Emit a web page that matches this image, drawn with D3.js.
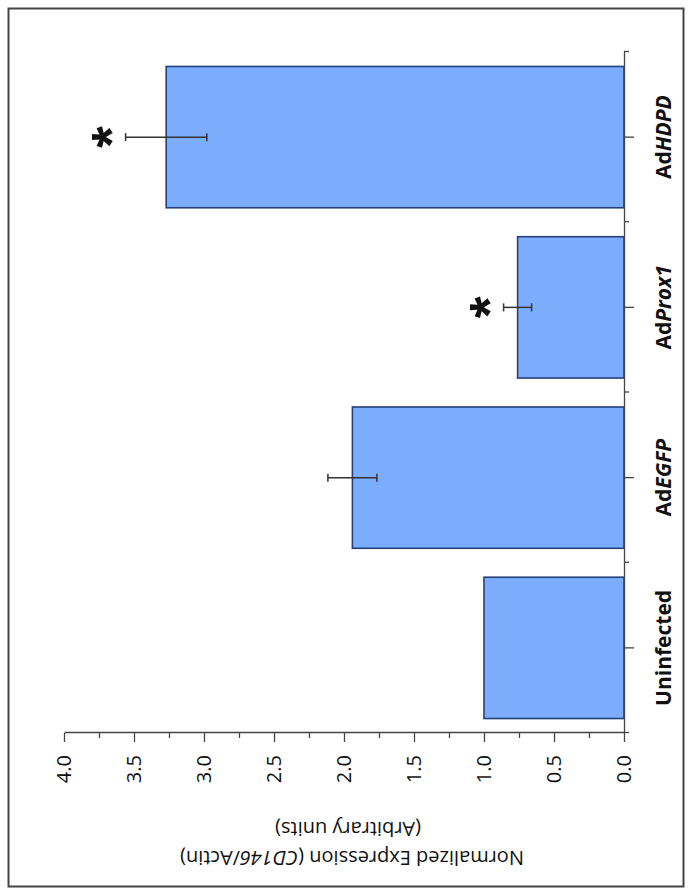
<!DOCTYPE html>
<html>
<head>
<meta charset="utf-8">
<script src="https://cdn.jsdelivr.net/npm/d3@7"></script>
<style>
  body { margin: 0; background: #fff; }
  text { font-family: "Open Sans", "Noto Sans", sans-serif; fill: #111; }
</style>
</head>
<body>
<div id="chart"></div>
<script>
// data
const categories = ["Uninfected", "AdEGFP", "AdProx1", "AdHDPD"];
const labelPlain = ["Uninfected", "Ad", "Ad", "Ad"];
const labelItalic = ["", "EGFP", "Prox1", "HDPD"];
const values = [1.0, 1.94, 0.76, 3.27];
const errors = [0, 0.175, 0.10, 0.29];
const significant = [false, false, true, true];
const valueTicks = [0, 0.5, 1.0, 1.5, 2.0, 2.5, 3.0, 3.5, 4.0];
const minorTicks = [0.25, 0.75, 1.25, 1.75, 2.25, 2.75, 3.25, 3.75];
const titleLines = ["Normalized Expression (", "CD146", "/Actin)"];
const subTitle = "(Arbitrary units)";

const width = 692, height = 894;
// the chart is drawn as an ordinary column chart, then turned 90deg counter-clockwise
const W = 681;  // category axis length
const H = 560;  // value axis length

const svg = d3.select("#chart").append("svg")
  .attr("width", width)
  .attr("height", height);

// outer frame
svg.append("rect")
  .attr("x", 8.5).attr("y", 8.5)
  .attr("width", 675).attr("height", 878)
  .attr("fill", "none")
  .attr("stroke", "#444")
  .attr("stroke-width", 2);

const g = svg.append("g")
  .attr("transform", "translate(64,733) rotate(-90)");

const x = d3.scaleBand()
  .domain(categories)
  .range([0, W])
  .paddingInner(0.17)
  .paddingOuter(0.085);

const y = d3.scaleLinear()
  .domain([0, 4])
  .range([H, 0]);

// bars
g.selectAll(".bar")
  .data(categories)
  .join("rect")
  .attr("class", "bar")
  .attr("x", d => x(d))
  .attr("y", (d, i) => y(values[i]))
  .attr("width", x.bandwidth())
  .attr("height", (d, i) => H - y(values[i]))
  .attr("fill", "#7cadfc")
  .attr("stroke", "#23407a")
  .attr("stroke-width", 1.6);

// value axis (horizontal on screen)
const yAxis = g.append("g")
  .call(d3.axisLeft(y).tickValues(valueTicks).tickFormat(d3.format(".1f"))
    .tickSize(9).tickSizeOuter(0).tickPadding(13));
yAxis.selectAll("text").style("font-size", "20px").attr("font-family", "Open Sans");

g.append("g")
  .call(d3.axisLeft(y).tickValues(minorTicks).tickFormat("").tickSize(5))
  .call(a => a.select(".domain").remove());

// category axis (vertical on screen)
g.append("g")
  .attr("transform", "translate(0," + H + ")")
  .call(d3.axisBottom(x).tickSize(10).tickSizeOuter(0).tickFormat(""));

const bounds = d3.scaleLinear().domain([0, categories.length]).range([0, W]);
g.append("g")
  .attr("transform", "translate(0," + H + ")")
  .call(d3.axisBottom(bounds).ticks(categories.length).tickSize(5).tickFormat(""))
  .call(a => a.select(".domain").remove());

g.selectAll(".domain, .tick line").attr("stroke", "#444").attr("stroke-width", 1.3);

// category labels
const cl = g.selectAll(".catlabel")
  .data(categories)
  .join("text")
  .attr("class", "catlabel")
  .attr("x", d => x(d) + x.bandwidth() / 2)
  .attr("y", H + 32)
  .attr("dy", "0.71em")
  .attr("text-anchor", "middle")
  .style("font-size", "21px")
  .style("font-weight", "bold");
cl.append("tspan").text((d, i) => labelPlain[i]);
cl.append("tspan").style("font-style", "italic").text((d, i) => labelItalic[i]);

// error bars
const eb = g.selectAll(".err")
  .data(categories.filter((d, i) => errors[i] > 0))
  .join("g")
  .attr("class", "err")
  .attr("stroke", "#333")
  .attr("stroke-width", 1.5);
const idx = d => categories.indexOf(d);
eb.append("line")
  .attr("x1", d => x(d) + x.bandwidth() / 2)
  .attr("x2", d => x(d) + x.bandwidth() / 2)
  .attr("y1", d => y(values[idx(d)] + errors[idx(d)]))
  .attr("y2", d => y(values[idx(d)] - errors[idx(d)]));
[1, -1].forEach(s => {
  eb.append("line")
    .attr("x1", d => x(d) + x.bandwidth() / 2 - 4)
    .attr("x2", d => x(d) + x.bandwidth() / 2 + 4)
    .attr("y1", d => y(values[idx(d)] + s * errors[idx(d)]))
    .attr("y2", d => y(values[idx(d)] + s * errors[idx(d)]));
});

// significance marks
g.selectAll(".star")
  .data(categories.filter((d, i) => significant[i]))
  .join("text")
  .attr("class", "star")
  .attr("x", d => x(d) + x.bandwidth() / 2)
  .attr("y", d => y(values[idx(d)] + errors[idx(d)]) - 26)
  .attr("dy", "0.55em")
  .attr("text-anchor", "middle")
  .style("font-family", "Liberation Sans")
  .style("font-weight", "bold")
  .style("font-size", "56px")
  .text("*");

// axis title (ends up upside down once the chart is turned)
const t1 = g.append("text")
  .attr("transform", "translate(-125," + (H / 2 + 8) + ") rotate(-90)")
  .attr("text-anchor", "middle")
  .attr("dy", "0.35em")
  .style("font-size", "20px");
t1.append("tspan").text(titleLines[0]);
t1.append("tspan").style("font-style", "italic").text(titleLines[1]);
t1.append("tspan").text(titleLines[2]);

g.append("text")
  .attr("transform", "translate(-96," + (H / 2 + 4) + ") rotate(-90)")
  .attr("text-anchor", "middle")
  .attr("dy", "0.35em")
  .style("font-size", "20px")
  .text(subTitle);
</script>
</body>
</html>
